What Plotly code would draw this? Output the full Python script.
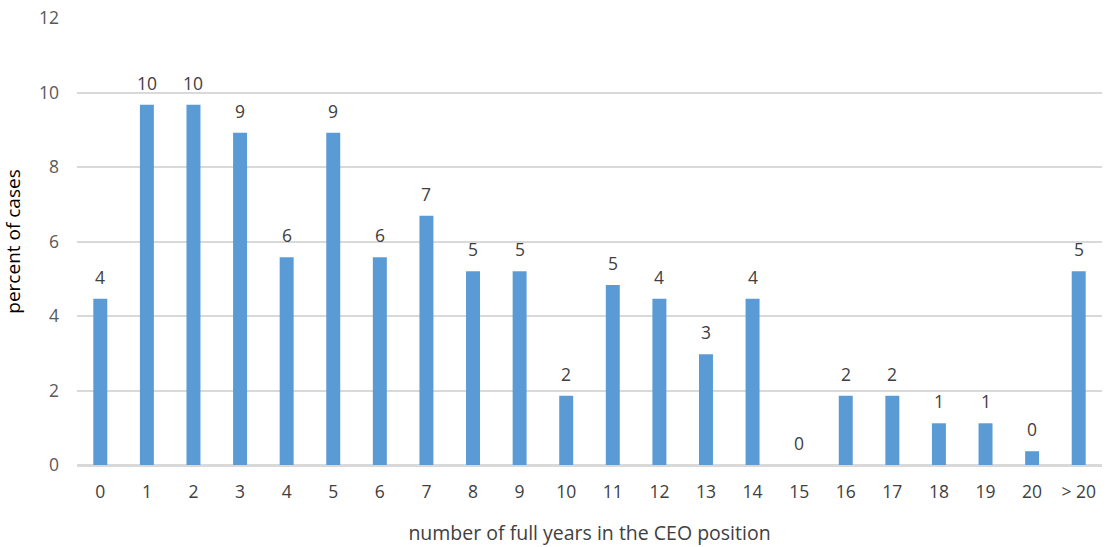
import plotly.graph_objects as go

# Tenure distribution: share of cases by number of full years in the CEO position
categories = ["0", "1", "2", "3", "4", "5", "6", "7", "8", "9", "10",
              "11", "12", "13", "14", "15", "16", "17", "18", "19", "20", "> 20"]
percent_of_cases = [4.46, 9.67, 9.67, 8.92, 5.58, 8.92, 5.58, 6.69, 5.20, 5.20, 1.86,
                    4.83, 4.46, 2.97, 4.46, 0.00, 1.86, 1.86, 1.12, 1.12, 0.37, 5.20]
y_ticks = [0, 2, 4, 6, 8, 10, 12]

FONT = "Open Sans"
BAR_COLOR = "#5b9bd5"
GRID_COLOR = "#d9d9d9"

fig = go.Figure()
fig.add_trace(go.Bar(
    x=categories,
    y=percent_of_cases,
    marker=dict(color=BAR_COLOR, line=dict(width=0)),
    hovertemplate="%{x}: %{y:.2f}%<extra></extra>",
))

# rounded value labels above each bar
for cat, val in zip(categories, percent_of_cases):
    fig.add_annotation(
        x=cat, y=val, text=f"{val:.0f}",
        showarrow=False, yanchor="bottom", yshift=8,
        font=dict(family=FONT, size=17.5, color="#404040"),
    )

fig.update_layout(
    width=1106, height=547,
    margin=dict(l=77, r=4, t=18, b=82),
    paper_bgcolor="white", plot_bgcolor="white",
    bargap=0.7,
    showlegend=False,
    font=dict(family=FONT, size=17.5, color="#595959"),
)
fig.update_xaxes(
    type="category",
    showgrid=False, showline=True, linecolor=GRID_COLOR, linewidth=1.5,
    ticks="", ticklabelstandoff=10,
    tickfont=dict(family=FONT, size=17.5, color="#404040"),
    title=dict(text="number of full years in the CEO position",
               font=dict(family=FONT, size=19.5, color="#404040"), standoff=25),
)
fig.update_yaxes(
    range=[0, 12], tickvals=y_ticks,
    showgrid=True, gridcolor=GRID_COLOR, gridwidth=1.5,
    zeroline=True, zerolinecolor=GRID_COLOR, zerolinewidth=1.5,
    showline=False, ticks="", ticklabelstandoff=17,
    tickfont=dict(family=FONT, size=17.5, color="#595959"),
    title=dict(text="percent of cases",
               font=dict(family=FONT, size=19, color="#000000"), standoff=14),
)

fig.write_html("out.html")
